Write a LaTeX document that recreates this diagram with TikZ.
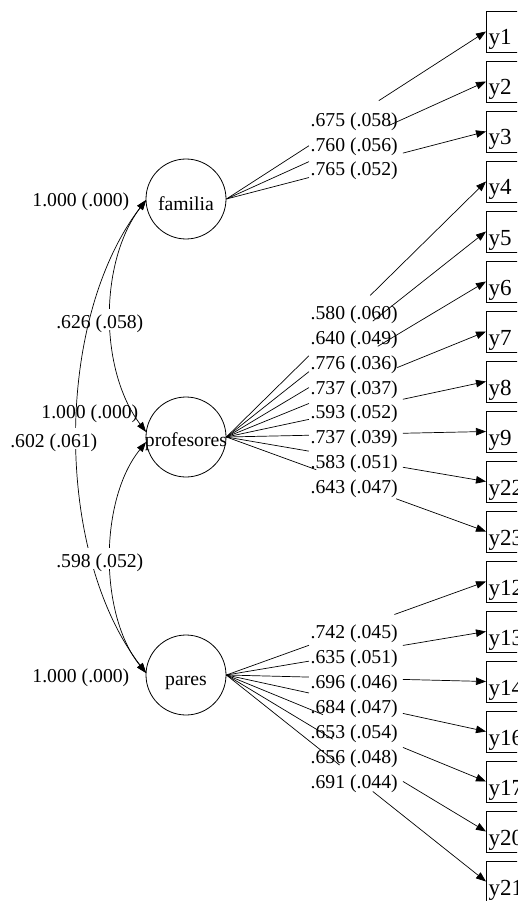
\documentclass[tikz,border=0pt]{standalone}
\usepackage{fontspec}
\setmainfont{Liberation Serif}
\usetikzlibrary{arrows.meta,calc}
\begin{document}
\begin{tikzpicture}[x=1pt,y=-1pt,
  every node/.style={font=\fontsize{19.7pt}{23pt}\selectfont},
  latent/.style={draw, circle, minimum size=80pt, inner sep=0pt, line width=0.8pt},
  obs/.style={draw, rectangle, minimum width=60pt, minimum height=41pt, inner sep=0pt, anchor=west, line width=0.8pt},
  obstext/.style={anchor=base west, inner sep=0pt, font=\fontsize{23pt}{26pt}\selectfont},
  lab/.style={inner sep=0pt},
  wlab/.style={fill=white, inner sep=1.5pt, text height=18pt, text depth=0pt},
  ind/.style={line width=0.7pt},
  tip/.style={-{Triangle[length=10pt,width=7.5pt]}},
  cov/.style={line width=0.7pt,{Triangle[length=10pt,width=7pt]}-{Triangle[length=10pt,width=7pt]}}
]
\useasboundingbox (0,0) rectangle (517,901);
\clip (0,0) rectangle (517,901);

% latent variables
\node[latent] (fam) at (186,199) {};
\node[anchor=base, inner sep=0pt] (famt) at (186,211) {familia};
\node[latent] (pro) at (186,437) {};
\node[anchor=base, inner sep=0pt] (prot) at (186,446) {profesores};
\node[latent] (par) at (186,675) {};
\node[anchor=base, inner sep=0pt] (part) at (186,685) {pares};

% observed variables
\foreach \n [count=\k from 0] in {y1,y2,y3,y4,y5,y6,y7,y8,y9,y22,y23,y12,y13,y14,y16,y17,y20,y21} {
  \node[obs] (\n) at (486,31.5+50*\k) {};
  \node[obstext] (t\n) at (488.5,45+50*\k) {\n};
}

% loadings (lines interrupted behind the label column)
\foreach \s/\t/\a/\b in {fam/y1/0.318/0.587, fam/y2/0.318/0.626, fam/y3/0.318/0.680,
  pro/y4/0.318/0.554, pro/y5/0.318/0.564, pro/y6/0.318/0.583, pro/y7/0.318/0.658,
  pro/y8/0.318/0.680, pro/y9/0.318/0.680, pro/y22/0.318/0.680, pro/y23/0.346/0.654,
  par/y12/0.318/0.647, par/y13/0.318/0.680, par/y14/0.318/0.680, par/y16/0.318/0.680,
  par/y17/0.372/0.680, par/y20/0.410/0.680, par/y21/0.436/0.564} {
  \draw[ind] (\s.east) -- ($(\s.east)!\a!(\t.west)$);
  \draw[ind,tip] ($(\s.east)!\b!(\t.west)$) -- (\t.west);
}

% loading labels
\foreach \v/\yy [count=\i] in {.675 (.058)/127, .760 (.056)/151.5, .765 (.052)/176,
  .580 (.060)/319, .640 (.049)/344, .776 (.036)/369, .737 (.037)/394, .593 (.052)/418.5,
  .737 (.039)/443.5, .583 (.051)/468.5, .643 (.047)/493,
  .742 (.045)/638.5, .635 (.051)/663.5, .696 (.046)/688.5, .684 (.047)/713.5,
  .653 (.054)/738.5, .656 (.048)/763.5, .691 (.044)/788.5} {
  \node[lab, anchor=base west] (r\i) at (310.5,\yy) {\v};
}

% variances
\node[lab, anchor=base east] (vfam) at (129.5,207) {1.000 (.000)};
\node[lab, anchor=base east] (vpro) at (138.5,418) {1.000 (.000)};
\node[lab, anchor=base east] (vpar) at (129.5,682) {1.000 (.000)};

% covariances
\draw[cov] ($(fam.west)+(0.5,1)$) .. controls (99,262) and (99,370) .. ($(pro.west)+(0.5,-5)$);
\node[wlab, anchor=base east] (c1) at (145,328) {.626 (.058)};
\draw[cov] ($(fam.west)+(0.5,1)$) .. controls (54,320) and (54,553) .. ($(par.west)+(0.5,-2)$);
\draw[cov] ($(pro.west)+(0.5,5)$) .. controls (99,500) and (99,615) .. ($(par.west)+(0.5,-2)$);
\node[wlab, anchor=base east] (c2) at (99,447) {.602 (.061)};
\node[wlab, anchor=base east] (c3) at (145,567) {.598 (.052)};
\end{tikzpicture}
\end{document}
